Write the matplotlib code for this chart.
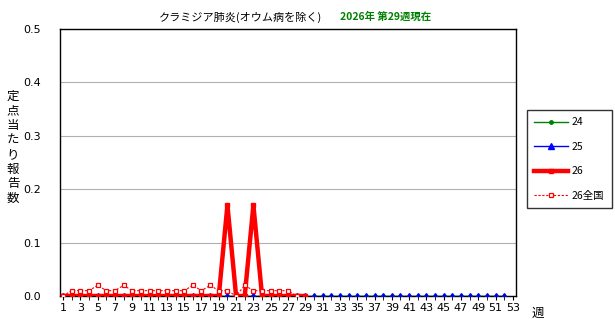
import matplotlib
matplotlib.use("Agg")
import matplotlib.pyplot as plt
import numpy as np

plt.rcParams['font.family'] = ['Noto Sans CJK JP', 'DejaVu Sans']

weeks_all = list(range(1, 54))
s24 = [0.0] * 52
s25 = [0.0] * 52
s26 = [0, 0, 0, 0, 0, 0, 0, 0, 0, 0, 0, 0, 0, 0, 0, 0, 0, 0, 0, 0.17,
       0, 0, 0.17, 0, 0, 0, 0, 0, 0]
nat26 = [0.0, 0.01, 0.01, 0.01, 0.02, 0.01, 0.01, 0.02, 0.01, 0.01, 0.01, 0.01,
         0.01, 0.01, 0.01, 0.02, 0.01, 0.02, 0.01, 0.01, 0.0, 0.02, 0.01, 0.01,
         0.01, 0.01, 0.01, 0.0]
yticks = [0.0, 0.1, 0.2, 0.3, 0.4, 0.5]
xtick_labels = [str(w) for w in range(1, 54, 2)]

fig = plt.figure(figsize=(6.15, 3.27), dpi=100)
ax = fig.add_axes([60/615, 1 - 296/327, (516-60)/615, (296-29)/327])

ax.plot(range(1, len(s24)+1), s24, color='green', lw=1, marker='o', ms=2.5, label='24', zorder=3)
ax.plot(range(1, len(s25)+1), s25, color='blue', lw=1, marker='^', ms=4, label='25', zorder=4)
ax.plot(range(1, len(s26)+1), s26, color='red', lw=3.2, marker='s', ms=3.5, label='26', zorder=5)
ax.plot(range(1, len(nat26)+1), nat26, color='red', lw=0.8, ls=(0, (2, 1.5)), marker='s', ms=3.3,
        mfc='white', mec='red', mew=0.9, label='26全国', zorder=6)

ax.set_xlim(0.65, 53.35)
ax.set_ylim(0, 0.5)
ax.set_yticks(yticks)
ax.set_yticklabels([f"{v:.1f}" for v in yticks], fontsize=8, family='DejaVu Sans')
ax.set_xticks(list(range(1, 54, 2)))
ax.set_xticklabels(xtick_labels, fontsize=8, family='DejaVu Sans')
ax.set_xticks(list(range(1, 54)), minor=True)
ax.tick_params(axis='y', length=0, pad=14)
ax.tick_params(axis='x', which='both', length=3, direction='out', pad=2)
ax.yaxis.grid(True, color='#b0b0b0', lw=0.8)
ax.set_axisbelow(True)
for sp in ax.spines.values():
    sp.set_color('black')
    sp.set_linewidth(1)

fig.text(241/615, 1 - 17/327, 'クラミジア肺炎(オウム病を除く)', ha='center', va='center', fontsize=8)
fig.text(386/615, 1 - 17/327, '2026年 第29週現在', ha='center', va='center', fontsize=7.5,
         color='green', fontweight='bold')
ylab = '定点当たり報告数'
for i, ch in enumerate(ylab):
    fig.text(13/615, 1 - (96 + i*14.6)/327, ch, ha='center', va='center', fontsize=9)
fig.text(538/615, 1 - 313/327, '週', ha='center', va='center', fontsize=9)

leg = fig.legend(loc='upper left', bbox_to_anchor=(527/615, 1 - 110/327), frameon=True,
                 fancybox=False, edgecolor='black', fontsize=7.5, handlelength=3.2,
                 labelspacing=1.4, borderpad=0.7, handletextpad=0.4, borderaxespad=0)
leg.get_frame().set_linewidth(1)

fig.savefig('out.png', dpi=100)
